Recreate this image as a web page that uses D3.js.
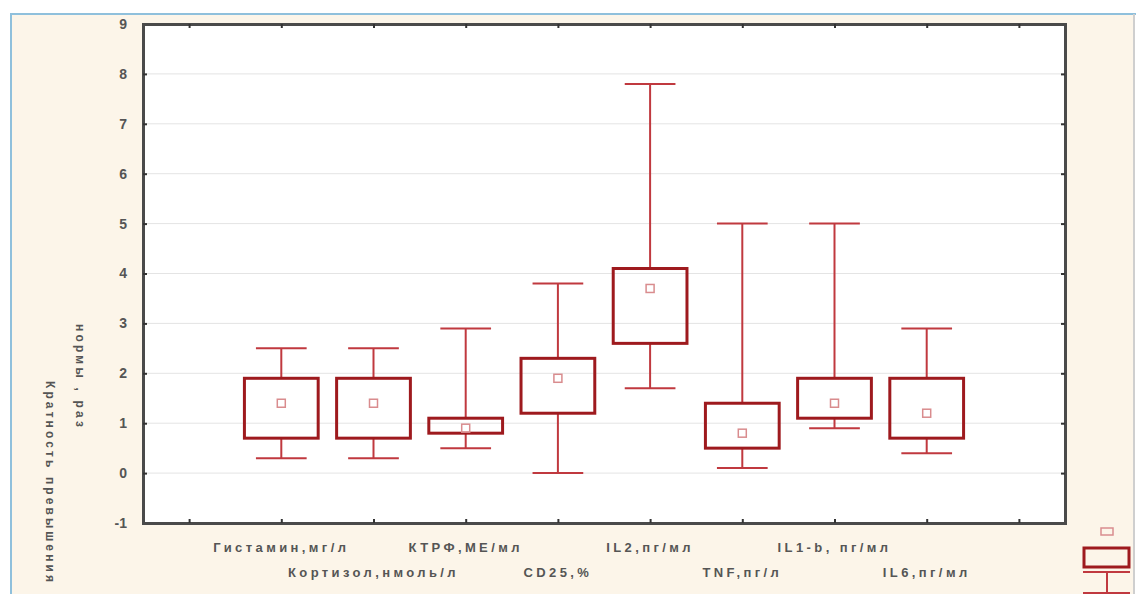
<!DOCTYPE html>
<html>
<head>
<meta charset="utf-8">
<script src="https://cdn.jsdelivr.net/npm/d3@7/dist/d3.min.js"></script>
<style>
html,body{margin:0;padding:0;background:#ffffff;}
svg{display:block;}
text{font-family:"Liberation Sans",Arial,sans-serif;}
</style>
</head>
<body>
<svg id="chart" width="1138" height="594"></svg>
<script>
// ---- data ----
const categories = ["Гистамин,мг/л","Кортизол,нмоль/л","КТРФ,МЕ/мл","CD25,%","IL2,пг/мл","TNF,пг/л","IL1-b,  пг/мл","IL6,пг/мл"];
const slots      = [1,2,3,4,5,6,7,8];          // position among 10 x-slots
const labelRow   = [0,1,0,1,0,1,0,1];
const whiskerLow = [0.3,0.3,0.5,0.0,1.7,0.1,0.9,0.4];
const boxLow     = [0.7,0.7,0.8,1.2,2.6,0.5,1.1,0.7];
const meanVal    = [1.4,1.4,0.9,1.9,3.7,0.8,1.4,1.2];
const boxHigh    = [1.9,1.9,1.1,2.3,4.1,1.4,1.9,1.9];
const whiskerHigh= [2.5,2.5,2.9,3.8,7.8,5.0,5.0,2.9];
const yTicks = [-1,0,1,2,3,4,5,6,7,8,9];
const yTitle1 = "нормы , раз";
const yTitle2 = "Кратность превышения";

const svg = d3.select("#chart");
const L=143, R=1065, T=24, B=523;

// background panel
svg.append("rect").attr("x",0).attr("y",0).attr("width",1138).attr("height",594).attr("fill","#ffffff");
svg.append("rect").attr("x",12).attr("y",14).attr("width",1122).attr("height",590).attr("fill","#fcf5e9");
svg.append("line").attr("x1",10).attr("x2",1136).attr("y1",14).attr("y2",14).attr("stroke","#8fc0dc").attr("stroke-width",2);
svg.append("line").attr("x1",11).attr("x2",11).attr("y1",13).attr("y2",594).attr("stroke","#8fc0dc").attr("stroke-width",2);
svg.append("line").attr("x1",1134).attr("x2",1134).attr("y1",14).attr("y2",594).attr("stroke","#cfcfcf").attr("stroke-width",2);

const x = d3.scalePoint().domain(d3.range(10)).range([L,R]).padding(0.5);
const y = d3.scaleLinear().domain([-1,9]).range([B,T]);
const step = x.step();

svg.append("rect").attr("x",L).attr("y",T).attr("width",R-L).attr("height",B-T).attr("fill","#ffffff");

// gridlines
svg.append("g").selectAll("line").data(yTicks.filter(d=>d>-1&&d<9)).join("line")
  .attr("x1",L).attr("x2",R).attr("y1",d=>y(d)).attr("y2",d=>y(d))
  .attr("stroke","#e4e4e4").attr("stroke-width",1);

// axes
const axL = svg.append("g").attr("transform",`translate(${L},0)`)
  .call(d3.axisLeft(y).tickValues(yTicks).tickSize(-4).tickPadding(16).tickFormat(d=>String(d)));
const axR = svg.append("g").attr("transform",`translate(${R},0)`)
  .call(d3.axisRight(y).tickValues(yTicks).tickSize(-4).tickFormat(""));
const axB = svg.append("g").attr("transform",`translate(0,${B})`)
  .call(d3.axisBottom(x).tickSize(-4).tickFormat(""));
const axT = svg.append("g").attr("transform",`translate(0,${T})`)
  .call(d3.axisTop(x).tickSize(-4).tickFormat(""));
[axL,axR,axB,axT].forEach(g=>{
  g.select(".domain").attr("stroke","#4a4a4a").attr("stroke-width",3);
  g.selectAll(".tick line").attr("stroke","#333").attr("stroke-width",2);
});
axL.selectAll(".tick text").attr("font-size",14).attr("font-weight","bold").attr("fill","#555");

// boxes
const bw = step*0.8, cw = step*0.55;
const g = svg.append("g");
categories.forEach((c,i)=>{
  const cx = x(slots[i]);
  const gg = g.append("g");
  const wc = "#c0393f";
  gg.append("line").attr("x1",cx).attr("x2",cx).attr("y1",y(whiskerHigh[i])).attr("y2",y(boxHigh[i])).attr("stroke",wc).attr("stroke-width",2);
  gg.append("line").attr("x1",cx).attr("x2",cx).attr("y1",y(boxLow[i])).attr("y2",y(whiskerLow[i])).attr("stroke",wc).attr("stroke-width",2);
  gg.append("line").attr("x1",cx-cw/2).attr("x2",cx+cw/2).attr("y1",y(whiskerHigh[i])).attr("y2",y(whiskerHigh[i])).attr("stroke",wc).attr("stroke-width",2);
  gg.append("line").attr("x1",cx-cw/2).attr("x2",cx+cw/2).attr("y1",y(whiskerLow[i])).attr("y2",y(whiskerLow[i])).attr("stroke",wc).attr("stroke-width",2);
  gg.append("rect").attr("x",cx-bw/2).attr("y",y(boxHigh[i])).attr("width",bw).attr("height",y(boxLow[i])-y(boxHigh[i]))
    .attr("fill","none").attr("stroke","#9e1a1e").attr("stroke-width",3);
  gg.append("rect").attr("x",cx-4).attr("y",y(meanVal[i])-4).attr("width",8).attr("height",8)
    .attr("fill","none").attr("stroke","#d98c8e").attr("stroke-width",1.5);
  // category label
  svg.append("text").attr("x",cx).attr("y",labelRow[i]===0?552:577).attr("text-anchor","middle")
    .attr("font-size",13).attr("font-weight","bold").attr("letter-spacing","3.4px").attr("fill","#555").text(c);
});

// y title (rotated)
svg.append("text").attr("transform","translate(76,324) rotate(90)").attr("font-size",12).attr("font-weight","bold")
  .attr("letter-spacing","3.2px").attr("fill","#555").text(yTitle1);
svg.append("text").attr("transform","translate(46,381) rotate(90)").attr("font-size",12).attr("font-weight","bold")
  .attr("letter-spacing","3.1px").attr("fill","#555").text(yTitle2);

// partial legend glyph at bottom right
const lg = svg.append("g");
const lx = 1107;
lg.append("rect").attr("x",lx-6).attr("y",528).attr("width",12).attr("height",7).attr("fill","none").attr("stroke","#d98c8e").attr("stroke-width",1.5);
lg.append("rect").attr("x",1084).attr("y",548).attr("width",45).attr("height",19).attr("fill","none").attr("stroke","#9e1a1e").attr("stroke-width",3);
lg.append("line").attr("x1",1083).attr("x2",1130).attr("y1",572).attr("y2",572).attr("stroke","#c0393f").attr("stroke-width",2);
lg.append("line").attr("x1",lx).attr("x2",lx).attr("y1",572).attr("y2",594).attr("stroke","#c0393f").attr("stroke-width",2);
lg.append("line").attr("x1",1083).attr("x2",1130).attr("y1",593).attr("y2",593).attr("stroke","#c0393f").attr("stroke-width",2);
</script>
</body>
</html>
